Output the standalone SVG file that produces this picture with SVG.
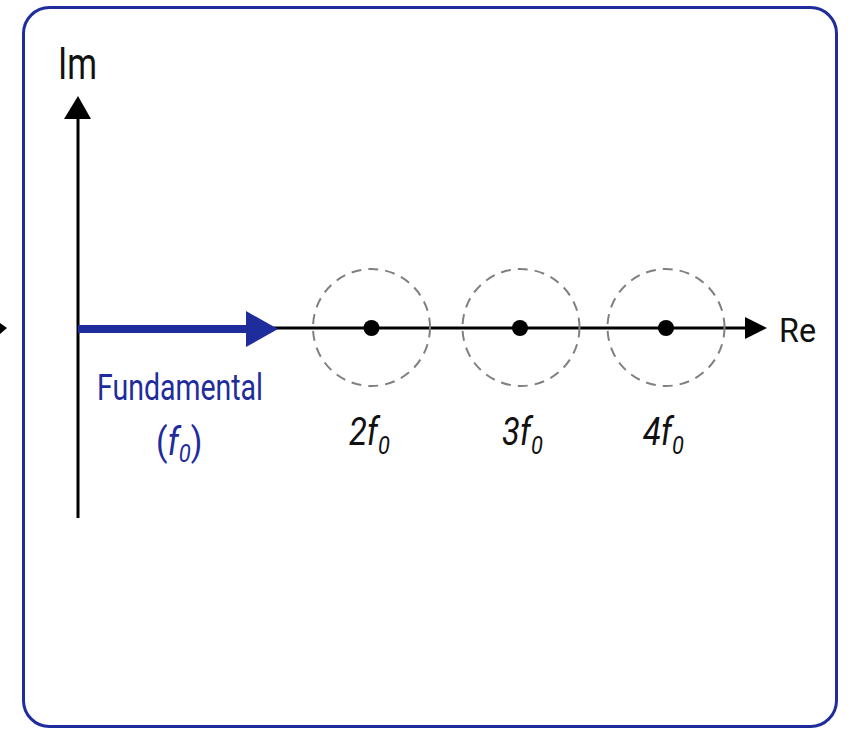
<svg xmlns="http://www.w3.org/2000/svg" width="851" height="729" viewBox="0 0 851 729">
<style>
.frame{fill:#ffffff;stroke:#1e2c9c;stroke-width:3}
.axis{stroke:#000;stroke-width:3;fill:none}
.ring{fill:none;stroke:#808080;stroke-width:2;stroke-dasharray:10 7}
.dot{fill:#000}
.lbl{font-family:Roboto,"Liberation Sans",sans-serif;fill:#111}
.harm{font-family:Roboto,"Liberation Sans",sans-serif;font-style:italic;font-size:39px;fill:#111}
.blue{font-family:Roboto,"Liberation Sans",sans-serif;fill:#1e2c9c}
</style>
<rect width="851" height="729" fill="#ffffff"/>
<rect class="frame" x="23.5" y="7.5" width="813" height="719" rx="26"/>
<polygon points="0,323 7,328 0,334" fill="#000"/>
<g id="connectors">
  <line class="axis" x1="78" y1="518" x2="78" y2="112"/>
  <polygon points="78,96 64,119 91,119" fill="#000"/>
  <line class="axis" x1="270" y1="328" x2="750" y2="328"/>
  <polygon points="767,328 745,317 745,339" fill="#000"/>
  <line x1="78" y1="329" x2="252" y2="329" stroke="#1e2c9c" stroke-width="8"/>
  <polygon points="278,329 246,311 246,347" fill="#1e2c9c"/>
</g>
<g id="im-label"><text class="lbl" x="58" y="79" font-size="44" textLength="39" lengthAdjust="spacingAndGlyphs">Im</text></g>
<g id="re-label"><text class="lbl" x="779" y="342" font-size="33" textLength="37" lengthAdjust="spacingAndGlyphs">Re</text></g>
<g id="fundamental">
  <text class="blue" x="97" y="400" font-size="36" textLength="166" lengthAdjust="spacingAndGlyphs">Fundamental</text>
  <text class="blue" transform="translate(156,455) scale(0.88,1)" x="0" y="0" font-size="38">(<tspan font-style="italic">f</tspan><tspan font-style="italic" font-size="25" dy="7">0</tspan><tspan dy="-7">)</tspan></text>
</g>
<g id="h2">
  <circle class="ring" cx="371.5" cy="327.5" r="58.5"/>
  <circle class="dot" cx="371.5" cy="328" r="8"/>
  <text class="harm" transform="translate(349,445) scale(0.84,1)" x="0" y="0">2f<tspan font-size="26" dy="9">0</tspan></text>
</g>
<g id="h3">
  <circle class="ring" cx="521" cy="327.5" r="58.5"/>
  <circle class="dot" cx="520" cy="328" r="8"/>
  <text class="harm" transform="translate(502,445) scale(0.84,1)" x="0" y="0">3f<tspan font-size="26" dy="9">0</tspan></text>
</g>
<g id="h4">
  <circle class="ring" cx="666" cy="327.5" r="58.5"/>
  <circle class="dot" cx="666" cy="328" r="8"/>
  <text class="harm" transform="translate(643,445) scale(0.84,1)" x="0" y="0">4f<tspan font-size="26" dy="9">0</tspan></text>
</g>
</svg>
